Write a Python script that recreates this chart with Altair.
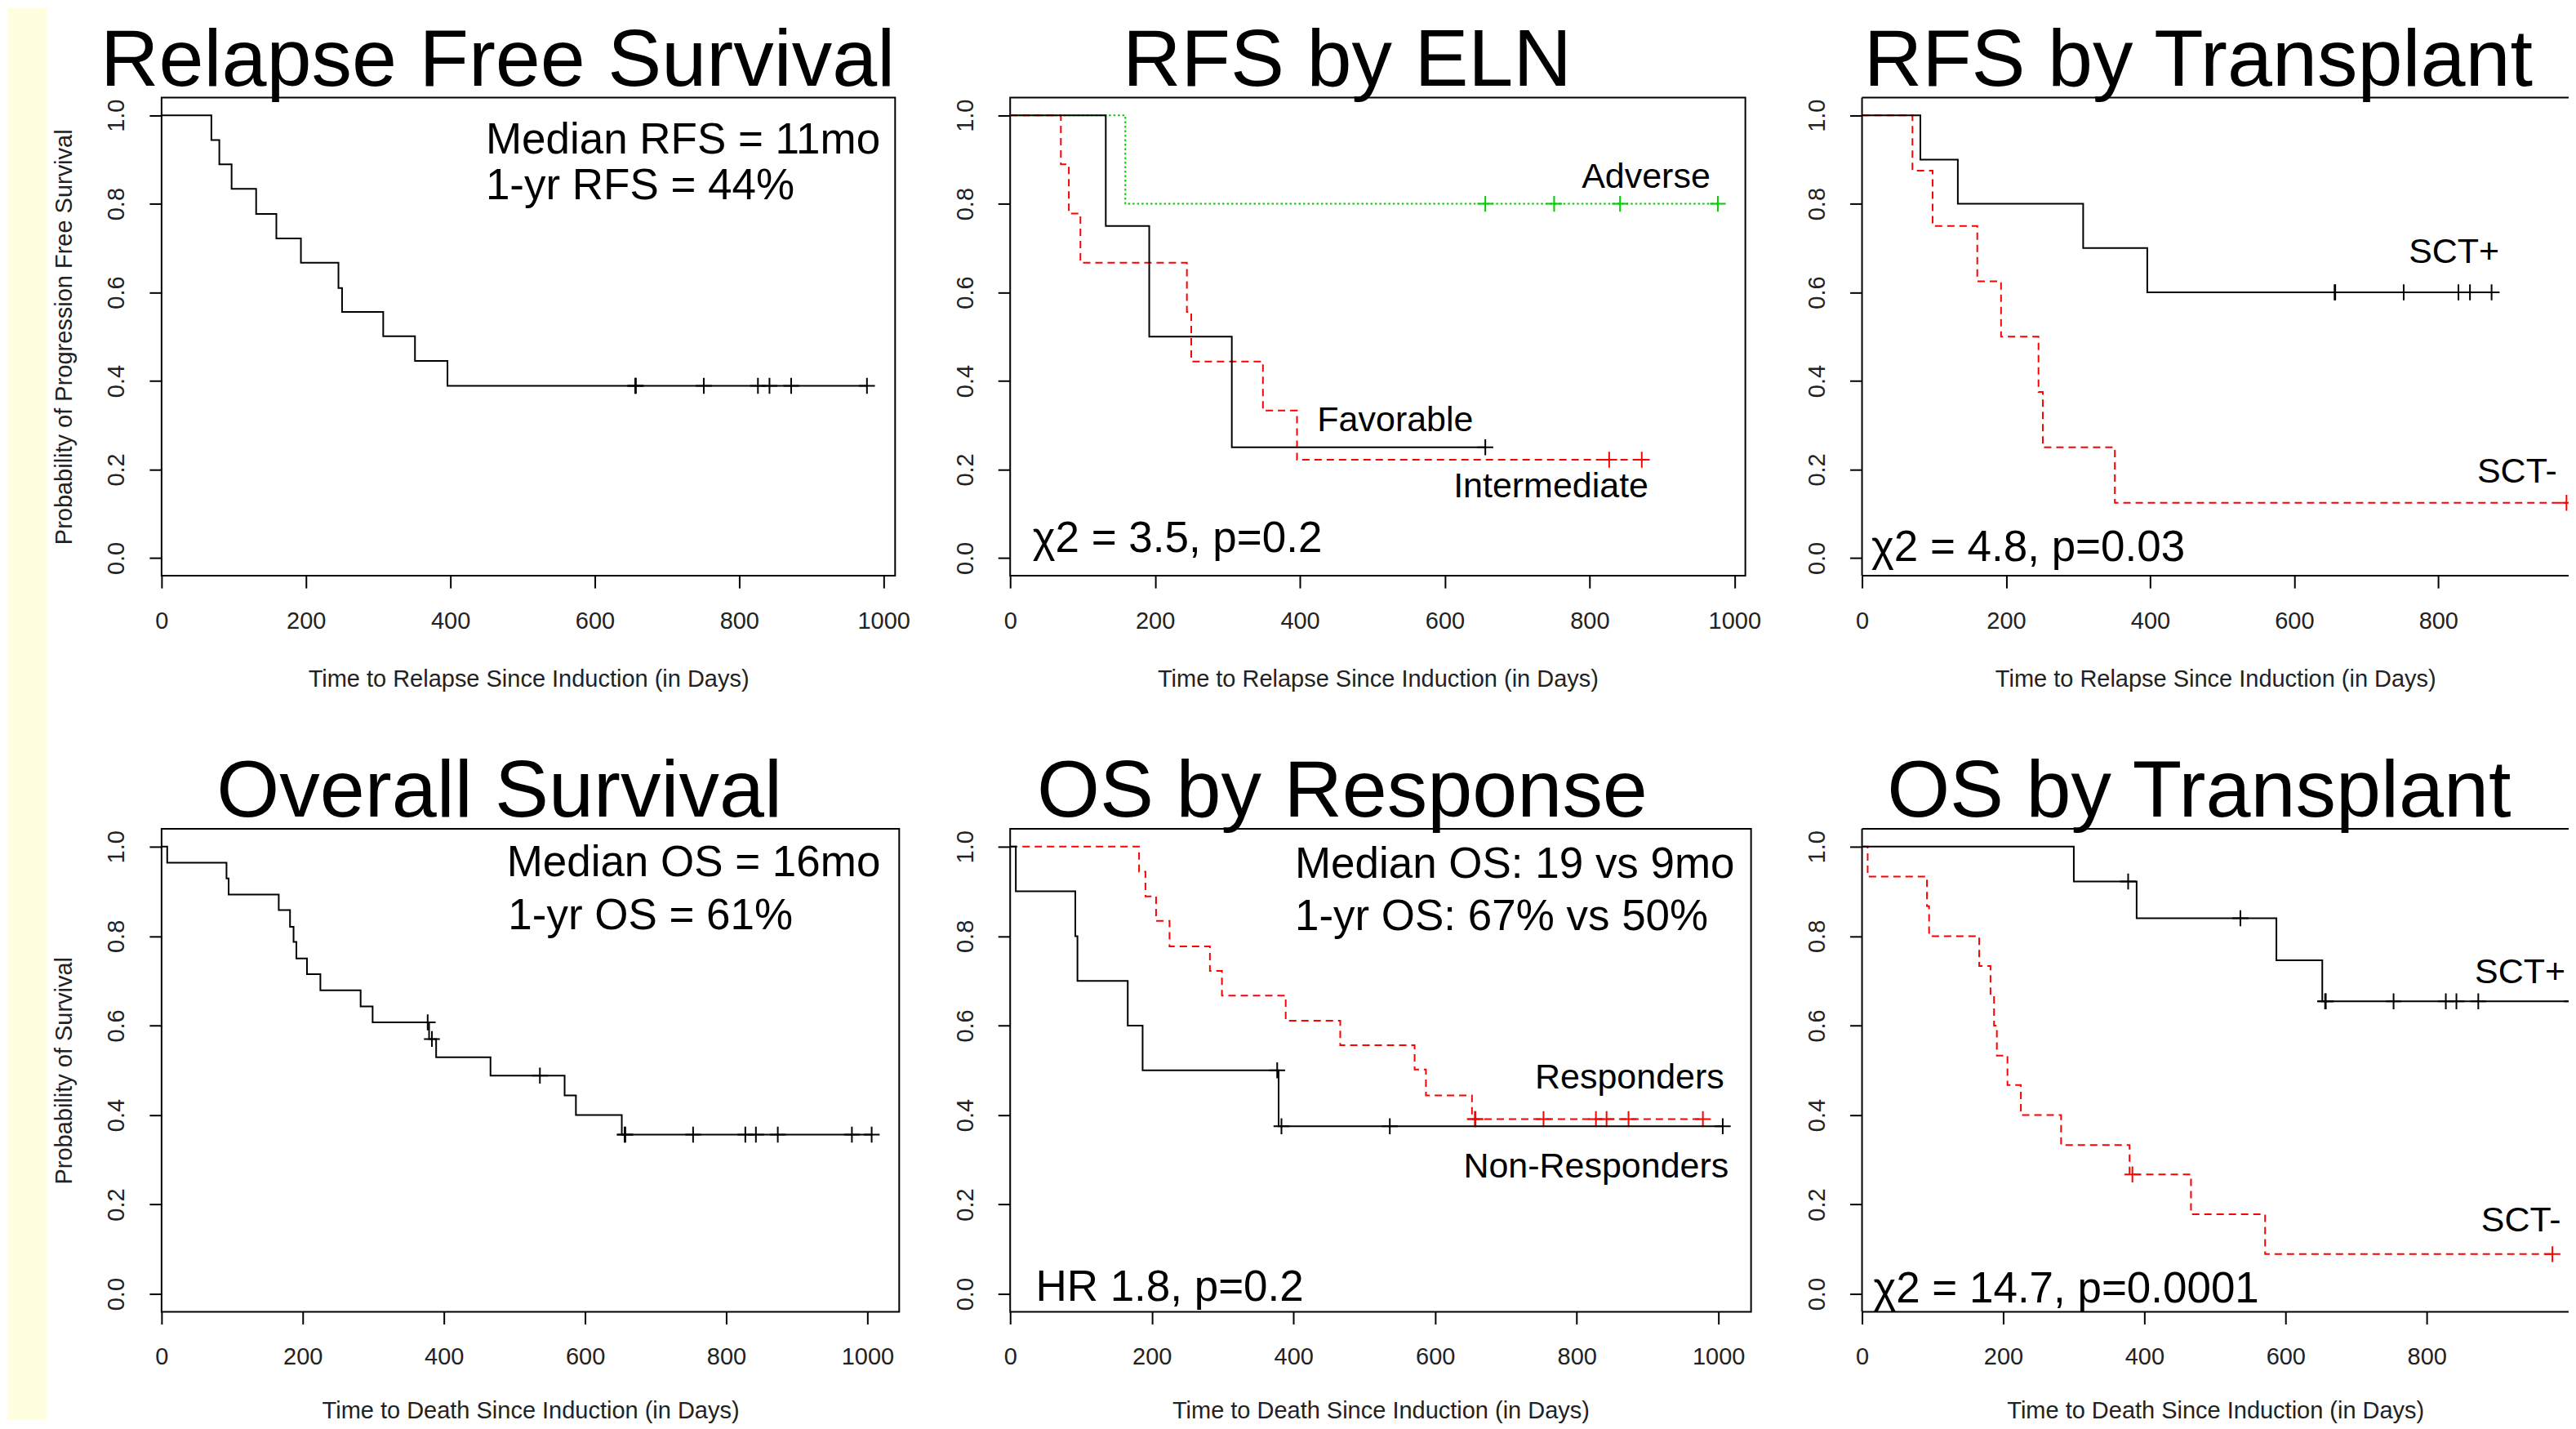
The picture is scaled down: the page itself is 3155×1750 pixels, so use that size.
import altair as alt
import pandas as pd

FONT = "Liberation Sans, Arial, Helvetica, sans-serif"

# ---------------- data ----------------
# Panel 1: Relapse Free Survival (all patients)
rfs_all_t = [69, 80, 97, 131, 159, 193, 245, 250, 307, 351, 396]
rfs_all_s = [0.944, 0.889, 0.834, 0.777, 0.722, 0.667, 0.610, 0.556, 0.501, 0.445, 0.389]
rfs_all_c = [656, 657, 751, 826, 842, 872, 977]

# Panel 2: RFS by ELN
eln_fav_t = [132, 192, 306]
eln_fav_s = [0.75, 0.50, 0.25]
eln_fav_c = [656]
eln_int_t = [70, 81, 97, 244, 250, 349, 396]
eln_int_s = [0.889, 0.778, 0.667, 0.556, 0.444, 0.333, 0.222]
eln_int_c = [827, 872]
eln_adv_t = [159]
eln_adv_s = [0.80]
eln_adv_c = [656, 751, 842, 977]

# Panel 3: RFS by Transplant
rfs_sctp_t = [81, 133, 307, 396]
rfs_sctp_s = [0.90, 0.80, 0.70, 0.60]
rfs_sctp_c = [656, 657, 752, 828, 844, 874]
rfs_sctm_t = [70, 98, 160, 193, 245, 251, 351]
rfs_sctm_s = [0.875, 0.75, 0.625, 0.50, 0.375, 0.25, 0.125]
rfs_sctm_c = [978]

# Panel 4: Overall Survival (all patients)
os_all_t = [8, 92, 95, 166, 182, 187, 191, 206, 225, 282, 299, 379, 389, 466, 571, 587, 652]
os_all_s = [0.964, 0.929, 0.893, 0.858, 0.821, 0.787, 0.750, 0.715, 0.679, 0.643, 0.607,
            0.570, 0.529, 0.488, 0.444, 0.400, 0.356]
os_all_c = [377, 383, 536, 656, 657, 753, 827, 842, 873, 978, 1006]

# Panel 5: OS by Response
os_nr_t = [8, 92, 95, 166, 187, 379]
os_nr_s = [0.90, 0.80, 0.70, 0.60, 0.50, 0.375]
os_nr_c = [377, 383, 536, 1006]
os_r_t = [182, 191, 206, 225, 282, 299, 389, 466, 571, 587, 652]
os_r_s = [0.944, 0.889, 0.834, 0.777, 0.722, 0.667, 0.611, 0.556, 0.502, 0.444, 0.391]
os_r_c = [656, 657, 753, 827, 842, 873, 978]

# Panel 6: OS by Transplant
os_sctp_t = [300, 389, 587, 652]
os_sctp_s = [0.922, 0.840, 0.746, 0.654]
os_sctp_c = [377, 536, 656, 657, 753, 827, 842, 873, 1006]
os_sctm_t = [8, 92, 95, 166, 182, 187, 191, 206, 225, 282, 379, 466, 571]
os_sctm_s = [0.933, 0.867, 0.800, 0.733, 0.667, 0.600, 0.533, 0.467, 0.400, 0.333,
             0.267, 0.178, 0.089]
os_sctm_c = [383, 978]

x_ticks = [0, 200, 400, 600, 800, 1000]
x_ticks_cut = [0, 200, 400, 600, 800]
y_ticks = [0.0, 0.2, 0.4, 0.6, 0.8, 1.0]

RED = "#FF0000"
GREEN = "#00CD00"
BLACK = "#000000"
PLUS = "M-1,0L1,0M0,-1L0,1"
ONE = pd.DataFrame({"k": [0]})


def km_frame(times, surv, cens):
    end = max(list(cens) + list(times))
    return pd.DataFrame({"t": [0] + list(times) + [end],
                         "s": [1.0] + list(surv) + [surv[-1]]})


def cens_frame(times, surv, cens):
    def at(c):
        v = 1.0
        for t, s in zip(times, surv):
            if t <= c:
                v = s
        return v
    return pd.DataFrame({"t": list(cens), "s": [at(c) for c in cens]})


def panel(curves, notes, title_txt, tx, ty, xmax, w, h, xtitle, xtitle_y,
          ytitle=None, yellow=False, cut=False):
    xs = alt.Scale(domain=[0, xmax], nice=False, zero=False)
    ys = alt.Scale(domain=[-0.04, 1.04], nice=False, zero=False)
    xaxis = alt.Axis(values=x_ticks_cut if cut else x_ticks, format="d", title=xtitle,
                     grid=False, domain=False,
                     tickSize=15, tickWidth=2, tickColor="black",
                     labelFont=FONT, labelFontSize=29, labelColor="#222222",
                     labelPadding=40, labelBaseline="middle", labelFlush=False,
                     labelOverlap=False,
                     titleFont=FONT, titleFontSize=29, titleFontWeight="normal",
                     titleColor="#222222", titleY=xtitle_y, titleBaseline="alphabetic")
    ykw = dict(values=y_ticks, format=".1f", grid=False, domain=False,
               tickSize=15, tickWidth=2, tickColor="black",
               labelFont=FONT, labelFontSize=29, labelColor="#222222",
               labelPadding=40, labelAngle=270, labelAlign="center",
               labelBaseline="middle", labelFlush=False, labelOverlap=False)
    if ytitle:
        ykw.update(title=ytitle, titleFont=FONT, titleFontSize=29,
                   titleFontWeight="normal", titleColor="#222222",
                   titleAngle=270, titleX=-110, titleY=h / 2,
                   titleAlign="center", titleBaseline="alphabetic")
    else:
        ykw.update(title=None)
    yaxis = alt.Axis(**ykw)

    X = alt.X("t:Q", scale=xs, axis=xaxis)
    Y = alt.Y("s:Q", scale=ys, axis=yaxis)

    layers = []
    if yellow:
        layers.append(
            alt.Chart(ONE).mark_rect(color="#FFFFDF").encode(
                x=alt.value(-189), x2=alt.value(-141),
                y=alt.value(-110), y2=alt.value(1620)))
    if cut:
        # frame without the right edge (the panel runs off the slide)
        for enc in (dict(x=alt.value(0), x2=alt.value(w), y=alt.value(0)),
                    dict(x=alt.value(0), x2=alt.value(w), y=alt.value(h)),
                    dict(x=alt.value(0), y=alt.value(0), y2=alt.value(h))):
            layers.append(alt.Chart(ONE).mark_rule(color="black", strokeWidth=2).encode(**enc))
    for times, surv, cens, color, dash in curves:
        lkw = dict(interpolate="step-after", color=color, strokeWidth=2, clip=True)
        if dash:
            lkw["strokeDash"] = dash
        layers.append(alt.Chart(km_frame(times, surv, cens)).mark_line(**lkw).encode(x=X, y=Y))
        layers.append(
            alt.Chart(cens_frame(times, surv, cens)).mark_point(
                shape=PLUS, size=380, strokeWidth=2, color=color,
                filled=False, opacity=1, clip=True).encode(x=X, y=Y))
    nd = pd.DataFrame(notes, columns=["t", "s", "label", "fs"])
    layers.append(
        alt.Chart(nd).mark_text(align="left", baseline="alphabetic", font=FONT,
                                color="black", clip=True).encode(
            x=X, y=Y, text="label:N", size=alt.Size("fs:Q", scale=None)))
    layers.append(
        alt.Chart(pd.DataFrame({"label": [title_txt]})).mark_text(
            align="center", baseline="alphabetic", font=FONT, fontSize=99,
            color="black").encode(x=alt.value(tx), y=alt.value(ty), text="label:N"))
    ch = alt.layer(*layers).properties(width=w, height=h)
    if cut:
        ch = ch.properties(view=alt.ViewBackground(strokeOpacity=0))
    return ch


RX = "Time to Relapse Since Induction (in Days)"
DX = "Time to Death Since Induction (in Days)"

p1 = panel([(rfs_all_t, rfs_all_s, rfs_all_c, BLACK, None)],
           [(449, 0.913, "Median RFS = 11mo", 53), (449, 0.81, "1-yr RFS = 44%", 53)],
           "Relapse Free Survival", 412, -14, 1016, 899, 586, RX, 135,
           "Probability of Progression Free Survival", yellow=True)

p2 = panel([(eln_adv_t, eln_adv_s, eln_adv_c, GREEN, [2.5, 3]),
            (eln_int_t, eln_int_s, eln_int_c, RED, [9, 6]),
            (eln_fav_t, eln_fav_s, eln_fav_c, BLACK, None)],
           [(789, 0.836, "Adverse", 43), (424, 0.286, "Favorable", 43),
            (612, 0.137, "Intermediate", 43), (31, 0.013, "χ2 = 3.5, p=0.2", 53)],
           "RFS by ELN", 413, -14, 1015, 901, 586, RX, 135)

p3 = panel([(rfs_sctm_t, rfs_sctm_s, rfs_sctm_c, RED, [9, 6]),
            (rfs_sctp_t, rfs_sctp_s, rfs_sctp_c, BLACK, None)],
           [(759, 0.667, "SCT+", 43), (854, 0.17, "SCT-", 43),
            (13, -0.007, "χ2 = 4.8, p=0.03", 53)],
           "RFS by Transplant", 412, -14, 981, 866, 586, RX, 135, cut=True)

p4 = panel([(os_all_t, os_all_s, os_all_c, BLACK, None)],
           [(489, 0.934, "Median OS = 16mo", 53), (491, 0.816, "1-yr OS = 61%", 53)],
           "Overall Survival", 414, -15, 1045, 904, 592, DX, 130,
           "Probability of Survival")

p5 = panel([(os_r_t, os_r_s, os_r_c, RED, [9, 6]),
            (os_nr_t, os_nr_s, os_nr_c, BLACK, None)],
           [(402, 0.93, "Median OS: 19 vs 9mo", 53), (402, 0.814, "1-yr OS: 67% vs 50%", 53),
            (741, 0.46, "Responders", 43), (640, 0.26, "Non-Responders", 43),
            (36, -0.015, "HR 1.8, p=0.2", 53)],
           "OS by Response", 407, -15, 1046, 908, 592, DX, 130)

p6 = panel([(os_sctm_t, os_sctm_s, os_sctm_c, RED, [9, 6]),
            (os_sctp_t, os_sctp_s, os_sctp_c, BLACK, None)],
           [(868, 0.695, "SCT+", 43), (877, 0.139, "SCT-", 43),
            (16, -0.019, "χ2 = 14.7, p=0.0001", 53)],
           "OS by Transplant", 413, -15, 1001, 866, 592, DX, 130, cut=True)

chart = alt.concat(p1, p2, p3, p4, p5, p6, columns=3,
                   spacing={"row": 310, "column": 136},
                   bounds="flush").configure_view(
    stroke="black", strokeWidth=2).properties(padding=0, background="white")

chart.save("out.html", embed_options={"renderer": "svg", "actions": False})
